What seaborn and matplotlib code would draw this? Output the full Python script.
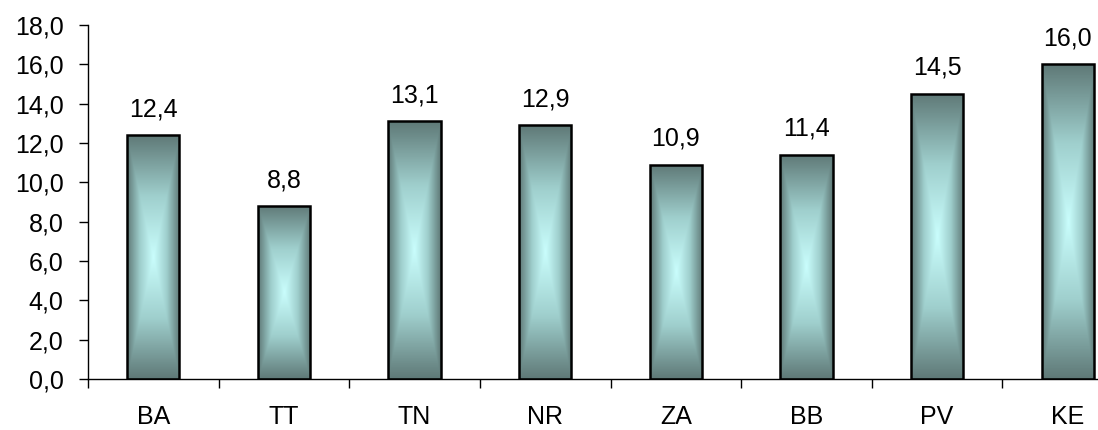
import numpy as np
import pandas as pd
import seaborn as sns
import matplotlib.pyplot as plt
from matplotlib.colors import LinearSegmentedColormap
from matplotlib.ticker import FixedLocator, FuncFormatter

# dados do gráfico
categorias = ["BA", "TT", "TN", "NR", "ZA", "BB", "PV", "KE"]
valores = [12.4, 8.8, 13.1, 12.9, 10.9, 11.4, 14.5, 16.0]

tabela = pd.DataFrame({"regiao": categorias, "valor": valores})

sns.set_style("ticks")
plt.rcParams["font.family"] = ["Liberation Sans", "DejaVu Sans"]
plt.rcParams["text.color"] = "black"
plt.rcParams["xtick.color"] = "black"
plt.rcParams["ytick.color"] = "black"

fig = plt.figure(figsize=(10.98, 4.30), dpi=100)
# o eixo continua além da borda direita, como no original
ax = fig.add_axes([88 / 1098, 51 / 430, 1045 / 1098, 354 / 430])

sns.barplot(data=tabela, x="regiao", y="valor", width=0.4, color="#6a8583",
            edgecolor="black", linewidth=1.8, ax=ax)

# gradiente "do centro" dentro de cada barra
cmap = LinearSegmentedColormap.from_list("grad", ["#c9fdfc", "#9fcfcd", "#5f7977"])
u = np.linspace(-1, 1, 200)
U, V = np.meshgrid(u, np.linspace(-1, 1, 400))
grad = np.maximum(np.abs(U), np.abs(V))
for p in ax.patches:
    x0, y0 = p.get_x(), p.get_y()
    w, h = p.get_width(), p.get_height()
    im = ax.imshow(grad, cmap=cmap, extent=(x0, x0 + w, y0, y0 + h),
                   aspect="auto", origin="lower", zorder=p.get_zorder(),
                   interpolation="bilinear")
    im.set_clip_path(p)
    p.set_facecolor("none")
    p.set_zorder(p.get_zorder() + 0.1)
    ax.annotate(f"{h:.1f}".replace(".", ","), (x0 + w / 2, y0 + h),
                xytext=(0, 10), textcoords="offset points",
                ha="center", va="bottom", fontsize=18)

ax.set_xlim(-0.5, 7.5)
ax.set_ylim(0, 18)
ax.set_yticks(np.arange(0, 19, 2))
ax.yaxis.set_major_formatter(FuncFormatter(lambda v, _: f"{v:.1f}".replace(".", ",")))
ax.xaxis.set_minor_locator(FixedLocator(np.arange(-0.5, 8, 1)))
ax.tick_params(axis="x", which="major", length=0, pad=19, labelsize=18)
ax.tick_params(axis="x", which="minor", length=6.5, width=1, color="black")
ax.tick_params(axis="y", length=6.5, width=1, color="black", pad=11, labelsize=18)
ax.set_xlabel("")
ax.set_ylabel("")
sns.despine(ax=ax)
for s in ["left", "bottom"]:
    ax.spines[s].set_color("black")
    ax.spines[s].set_linewidth(1)

fig.savefig("out.png", dpi=100)
